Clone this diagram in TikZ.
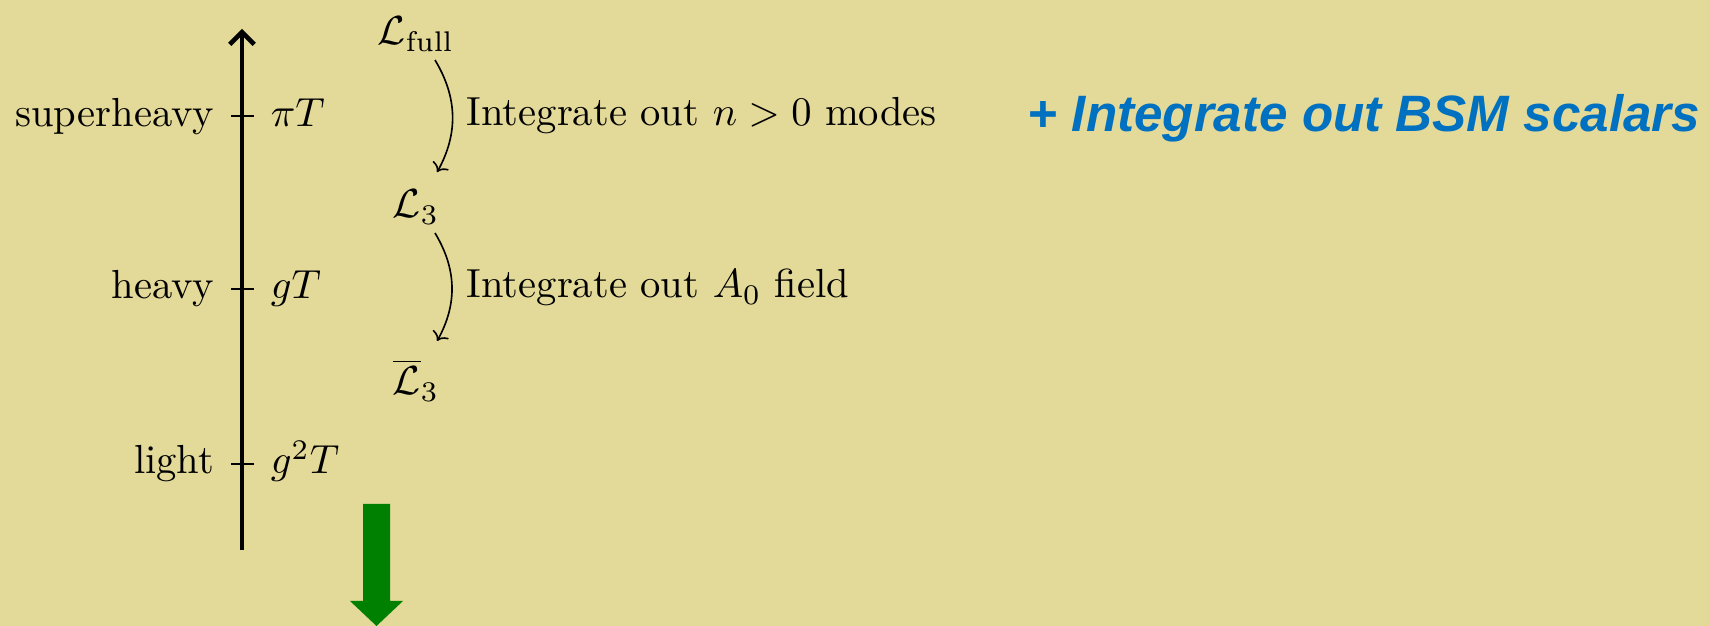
\documentclass[tikz,border=0pt]{standalone}
\usepackage{fontspec}
\usetikzlibrary{arrows.meta}
\newfontfamily\bsmfont{Liberation Sans}
\definecolor{bgc}{HTML}{E3D998}
\definecolor{arrowgreen}{HTML}{008000}
\definecolor{bsmblue}{HTML}{0070C0}
\tikzset{
  lbl/.style={inner sep=0pt, anchor=base east},
  scl/.style={inner sep=0pt, anchor=base west},
  lag/.style={inner sep=0pt, anchor=base},
  tick/.style={line width=0.4pt},
  flow/.style={line width=0.4pt, -{To[length=2pt,width=4.5pt]}, bend left=30},
  note/.style={inner sep=0pt, anchor=base west}
}
\begin{document}
\begin{tikzpicture}[x=0.2463pt,y=-0.2463pt]
\fill[bgc] (0,0) rectangle (1709,626);
\useasboundingbox (0,0) rectangle (1709,626);
% axis
\coordinate (axbot) at (242,550);
\coordinate (axtop) at (242,29);
\draw[line width=1.1pt, -{Straight Barb[length=3pt,width=6pt]}] (axbot) -- (axtop);
% ticks
\coordinate (t1a) at (231,116); \coordinate (t1b) at (254,116);
\coordinate (t2a) at (231,289); \coordinate (t2b) at (254,289);
\coordinate (t3a) at (231,464); \coordinate (t3b) at (254,464);
\draw[tick] (t1a) -- (t1b);
\draw[tick] (t2a) -- (t2b);
\draw[tick] (t3a) -- (t3b);
% left labels
\node[lbl] (sh) at (215,127) {superheavy};
\node[lbl] (hv) at (215,299) {heavy};
\node[lbl] (lt) at (215,474) {light};
% scales
\node[scl] (piT) at (270,127) {$\pi T$};
\node[scl] (gT) at (270,299) {$gT$};
\node[scl] (g2T) at (270,474) {$g^2T$};
% Lagrangians
\node[lag] (Lfull) at (416,45) {$\mathcal{L}_{\mathrm{full}}$};
\node[lag] (L3) at (416,218) {$\mathcal{L}_3$};
\node[lag] (L3b) at (416,395) {$\overline{\mathcal{L}}_3$};
\draw[flow] ([shift={(4.68pt,-3.7pt)}]Lfull.base) to ([shift={(5.2pt,11.3pt)}]L3.base);
\draw[flow] ([shift={(4.68pt,-3.7pt)}]L3.base) to ([shift={(5.2pt,13.3pt)}]L3b.base);
% notes
\node[note] (n1) at (466,126) {Integrate out $n>0$ modes};
\node[note] (n2) at (466,298) {Integrate out $A_0$ field};
% BSM
\node[note, text=bsmblue, font=\bsmfont\bfseries\itshape\fontsize{12.6}{15}\selectfont] (bsm) at (1027,132) {+ Integrate out BSM scalars};
% green arrow
\fill[arrowgreen] (363,504) -- (390,504) -- (390,601) -- (403,601) -- (376.5,626) -- (350,601) -- (363,601) -- cycle;
\end{tikzpicture}
\end{document}
